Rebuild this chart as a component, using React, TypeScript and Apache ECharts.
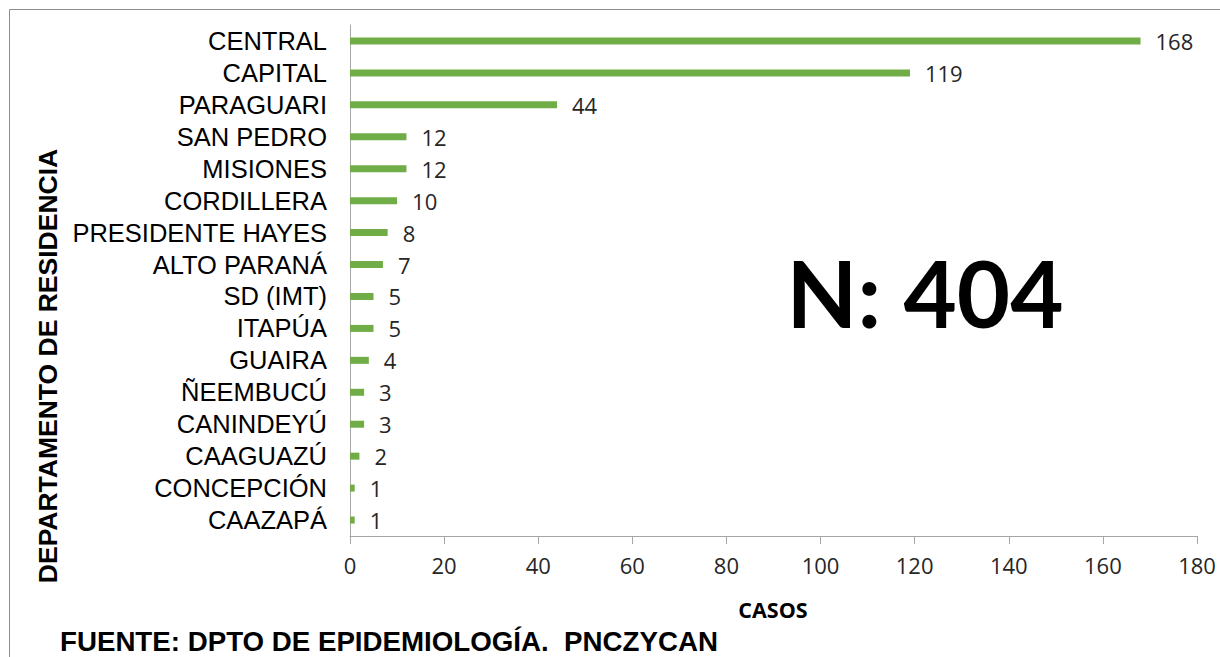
import React, { useEffect, useRef } from "react";
import * as echarts from "echarts";

const categories = [
  "CENTRAL",
  "CAPITAL",
  "PARAGUARI",
  "SAN PEDRO",
  "MISIONES",
  "CORDILLERA",
  "PRESIDENTE HAYES",
  "ALTO PARANÁ",
  "SD (IMT)",
  "ITAPÚA",
  "GUAIRA",
  "ÑEEMBUCÚ",
  "CANINDEYÚ",
  "CAAGUAZÚ",
  "CONCEPCIÓN",
  "CAAZAPÁ",
];
const casos = [168, 119, 44, 12, 12, 10, 8, 7, 5, 5, 4, 3, 3, 2, 1, 1];
const xMin = 0;
const xMax = 180;
const xStep = 20;
const totalText = "N: 404";
const xName = "CASOS";
const yName = "DEPARTAMENTO DE RESIDENCIA";
const sourceText = "FUENTE: DPTO DE EPIDEMIOLOGÍA.  PNCZYCAN";

export default function App() {
  const ref = useRef<HTMLDivElement>(null);
  useEffect(() => {
    document.body.style.margin = "0";
    const chart = echarts.init(ref.current!, null, { renderer: "svg" });
    chart.setOption({
      animation: false,
      backgroundColor: "#ffffff",
      grid: { left: 350, right: 23, top: 25, bottom: 121, containLabel: false },
      xAxis: {
        type: "value",
        min: xMin,
        max: xMax,
        interval: xStep,
        axisLine: { show: true, lineStyle: { color: "#a6a6a6", width: 1 } },
        axisTick: { show: true, length: 8, lineStyle: { color: "#a6a6a6" } },
        splitLine: { show: false },
        axisLabel: {
          margin: 18,
          color: "#262626",
          fontFamily: "Open Sans",
          fontSize: 22,
        },
      },
      yAxis: {
        type: "category",
        data: categories,
        inverse: true,
        axisLine: { show: true, lineStyle: { color: "#a6a6a6", width: 1 } },
        axisTick: { show: false },
        axisLabel: {
          interval: 0,
          margin: 23,
          color: "#000000",
          fontFamily: "Liberation Sans",
          fontSize: 25.5,
        },
      },
      series: [
        {
          type: "bar",
          data: casos,
          barWidth: 7,
          itemStyle: { color: "#70ad47" },
          label: {
            show: true,
            position: "right",
            distance: 15,
            color: "#262626",
            fontFamily: "Open Sans",
            fontSize: 22,
          },
        },
      ],
      graphic: [
        {
          type: "rect",
          shape: { x: 9.5, y: 9.5, width: 1300, height: 800 },
          style: { fill: "none", stroke: "#8c8c8c", lineWidth: 1 },
          silent: true,
          z: -1,
        },
        {
          type: "text",
          x: 925,
          y: 292,
          style: {
            text: totalText,
            fontFamily: "Lato",
            fontWeight: "bold",
            fontSize: 92,
            fill: "#000000",
            align: "center",
            verticalAlign: "middle",
          },
        },
        {
          type: "text",
          x: 773,
          y: 609,
          style: {
            text: xName,
            fontFamily: "Open Sans",
            fontWeight: "bold",
            fontSize: 21.5,
            fill: "#000000",
            align: "center",
            verticalAlign: "middle",
          },
        },
        {
          type: "text",
          x: 48,
          y: 366,
          rotation: Math.PI / 2,
          style: {
            text: yName,
            fontFamily: "Liberation Sans",
            fontWeight: "bold",
            fontSize: 26.5,
            fill: "#000000",
            align: "center",
            verticalAlign: "middle",
          },
        },
        {
          type: "text",
          x: 60,
          y: 641,
          style: {
            text: sourceText,
            fontFamily: "Liberation Sans",
            fontWeight: "bold",
            fontSize: 27.7,
            fill: "#000000",
            align: "left",
            verticalAlign: "middle",
          },
        },
      ],
    });
    return () => chart.dispose();
  }, []);
  return <div ref={ref} style={{ width: 1220, height: 657 }} />;
}
